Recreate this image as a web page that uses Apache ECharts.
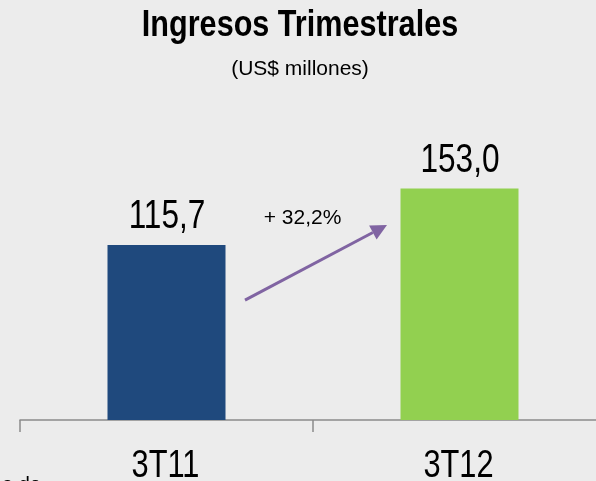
<!DOCTYPE html>
<html>
<head>
<meta charset="utf-8">
<script src="https://cdn.jsdelivr.net/npm/echarts@6/dist/echarts.min.js"></script>
<style>
  html, body { margin: 0; padding: 0; background: #ececec; }
  #chart { width: 596px; height: 481px; }
</style>
</head>
<body>
<div id="chart"></div>
<script>
const categories = ['3T11', '3T12']
const ingresos = [115.7, 153.0]
const barColors = ['#1f497d', '#92d050']
const growthLabel = '+ 32,2%'

const FONT = '"Liberation Sans", Arial, sans-serif'
// the original uses a narrow face; no narrow font here, so squeeze big texts
const NARROW = 0.79

const chart = echarts.init(document.getElementById('chart'))

const fmt = v => v.toFixed(1).replace('.', ',')

chart.setOption({
  backgroundColor: '#ececec',
  animation: false,
  grid: { left: 20, width: 586, top: 117.5, bottom: 61, outerBoundsMode: 'none', containLabel: false },
  xAxis: {
    type: 'category',
    data: categories,
    axisLine: { lineStyle: { color: '#8a8a8a', width: 1.5 } },
    axisTick: { show: true, length: 12, lineStyle: { color: '#8a8a8a', width: 1.5 } },
    axisLabel: { show: false }
  },
  yAxis: {
    type: 'value', min: 0, max: 200, show: false,
    splitLine: { show: false }
  },
  series: [{
    type: 'bar',
    data: ingresos.map((v, i) => ({ value: v, itemStyle: { color: barColors[i] } })),
    barWidth: 118
  }]
})

// squeezed text helper
function narrowText(x, y, text, size, opts) {
  return Object.assign({
    type: 'text', x: x, y: y, scaleX: NARROW,
    style: {
      text: text, fontFamily: FONT, fontSize: size, fill: '#000',
      textAlign: 'center', textVerticalAlign: 'bottom'
    }
  }, opts || {})
}

const graphics = []

// title + subtitle
graphics.push({
  type: 'text', x: 300, y: 26, scaleX: 0.85,
  style: {
    text: 'Ingresos Trimestrales', fontFamily: FONT, fontSize: 36, fontWeight: 'bold',
    fill: '#000', textAlign: 'center', textVerticalAlign: 'middle'
  }
})
graphics.push({
  type: 'text', x: 300, y: 69,
  style: {
    text: '(US$ millones)', fontFamily: FONT, fontSize: 21, fill: '#000',
    textAlign: 'center', textVerticalAlign: 'middle'
  }
})

// value labels above bars and category labels under the axis
categories.forEach((c, i) => {
  const top = chart.convertToPixel({ gridIndex: 0 }, [c, ingresos[i]])
  const base = chart.convertToPixel({ gridIndex: 0 }, [c, 0])
  graphics.push(narrowText(top[0] + 0.5, top[1] - 8, fmt(ingresos[i]), 40))
  graphics.push(narrowText(base[0] - 1, base[1] + 66, c, 39))
})

// arrow annotation between bars, anchored to the grid's scales
const p0 = chart.convertToPixel({ gridIndex: 0 }, [categories[0], 79.3])
const p1 = chart.convertToPixel({ gridIndex: 0 }, [categories[1], 128.9])
const x0 = p0[0] + 78.5, y0 = p0[1]
const x1 = p1[0] - 72.5, y1 = p1[1]
const ang = Math.atan2(y1 - y0, x1 - x0)
const head = 16, half = 8
const bx = x1 - head * Math.cos(ang), by = y1 - head * Math.sin(ang)
const nx = -Math.sin(ang), ny = Math.cos(ang)

graphics.push(
  {
    type: 'line',
    shape: { x1: x0, y1: y0, x2: bx, y2: by },
    style: { stroke: '#8064a2', lineWidth: 3 }
  },
  {
    type: 'polygon',
    shape: { points: [[x1, y1], [bx + nx * half, by + ny * half], [bx - nx * half, by - ny * half]] },
    style: { fill: '#8064a2' }
  },
  {
    type: 'text', x: 302.5, y: 218,
    style: {
      text: growthLabel, fontFamily: FONT, fontSize: 21, fill: '#000',
      textAlign: 'center', textVerticalAlign: 'middle'
    }
  },
  {
    type: 'text', x: 2, y: 475,
    style: { text: 'a de', fontFamily: FONT, fontSize: 20, fill: '#000' }
  }
)

chart.setOption({ graphic: graphics })
</script>
</body>
</html>
